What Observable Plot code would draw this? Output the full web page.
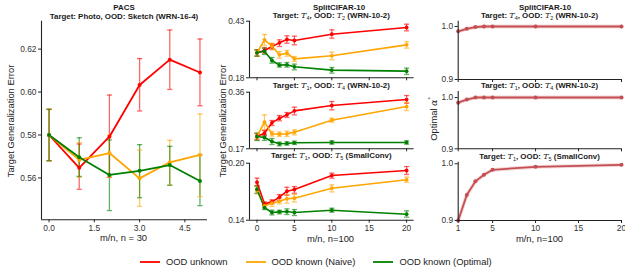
<!DOCTYPE html>
<html><head><meta charset="utf-8">
<script src="https://cdn.jsdelivr.net/npm/d3@7"></script>
<script src="https://cdn.jsdelivr.net/npm/@observablehq/plot@0.6"></script>
<style>
body{margin:0;background:#fff;font-family:"Liberation Sans",Arial,sans-serif;}
#root{position:relative;width:625px;height:275px;overflow:hidden;}
#root > svg{position:absolute;left:0;top:0;}
.t{position:absolute;white-space:nowrap;transform:translate(-50%,-50%);color:#1a1a1a;}
.tb{font-weight:bold;font-size:7.9px;}
.tb i{font-weight:normal;font-family:"DejaVu Serif",serif;font-size:8px;}
.tb sub{font-weight:normal;font-size:5.5px;vertical-align:-1.5px;}
.lab{font-size:9.4px;color:#222;}
.rot{transform:translate(-50%,-50%) rotate(-90deg);}
#legend{position:absolute;left:140px;top:256px;display:flex;gap:18px;font-size:9.4px;color:#222;}
#legend .it{display:flex;align-items:center;}
#legend .sw{display:block;margin-right:6px;}
</style></head><body><div id="root"></div>
<script>
// ---------- data ----------
const seriesNames = ["OOD unknown", "OOD known (Naive)", "OOD known (Optimal)"];
const seriesColors = ["#ff0000", "#ffa500", "#008000"];

// PACS
const pacsX = [0, 1, 2, 3, 4, 5];
const pacsUnknown   = [0.580, 0.5647, 0.5792, 0.6033, 0.6151, 0.6091];
const pacsUnknownLo = [0.568, 0.5547, 0.5603, 0.5912, 0.6012, 0.5936];
const pacsUnknownHi = [0.592, 0.5758, 0.5986, 0.6156, 0.6289, 0.6247];
const pacsNaive     = [0.580, 0.5684, 0.5716, 0.5598, 0.5673, 0.5707];
const pacsNaiveLo   = [0.568, 0.5603, 0.5603, 0.5468, 0.5566, 0.5513];
const pacsNaiveHi   = [0.592, 0.5764, 0.5800, 0.5730, 0.5775, 0.5898];
const pacsOpt       = [0.580, 0.5696, 0.5614, 0.5633, 0.5660, 0.5586];
const pacsOptLo     = [0.568, 0.5607, 0.5448, 0.5508, 0.5566, 0.5471];
const pacsOptHi     = [0.5919, 0.5787, 0.5777, 0.5755, 0.5747, 0.5707];

// SplitCIFAR-10
const midX = [0, 1, 2, 3, 4, 5, 10, 20];
// Panel A: T4 / T2
const aUnknown   = [0.2903, 0.3006, 0.3182, 0.3344, 0.3491, 0.3447, 0.3726, 0.4021];
const aUnknownLo = [0.2756, 0.2888, 0.3065, 0.3182, 0.3329, 0.3256, 0.3550, 0.3874];
const aUnknownHi = [0.3035, 0.3124, 0.3300, 0.3476, 0.3653, 0.3638, 0.3918, 0.4168];
const aNaive     = [0.2903, 0.3476, 0.3197, 0.2815, 0.2888, 0.2638, 0.2771, 0.3256];
const aNaiveLo   = [0.2756, 0.3226, 0.3035, 0.2668, 0.2756, 0.2521, 0.2594, 0.3109];
const aNaiveHi   = [0.3035, 0.3712, 0.3329, 0.2962, 0.3006, 0.2741, 0.2932, 0.3388];
const aOpt       = [0.2903, 0.2976, 0.2565, 0.2359, 0.2374, 0.2285, 0.2138, 0.2094];
const aOptLo     = [0.2756, 0.2830, 0.2447, 0.2271, 0.2271, 0.2153, 0.2006, 0.1947];
const aOptHi     = [0.3035, 0.3109, 0.2697, 0.2462, 0.2476, 0.2403, 0.2256, 0.2226];
// Panel B: T1 / T4
const bUnknown   = [0.2114, 0.2225, 0.2572, 0.2728, 0.2840, 0.2974, 0.3153, 0.3354];
const bUnknownLo = [0.2024, 0.2136, 0.2482, 0.2639, 0.2751, 0.2840, 0.3008, 0.3231];
const bUnknownHi = [0.2203, 0.2315, 0.2650, 0.2818, 0.2918, 0.3097, 0.3287, 0.3488];
const bNaive     = [0.2114, 0.2594, 0.2203, 0.2192, 0.2203, 0.2259, 0.2661, 0.3119];
const bNaiveLo   = [0.1980, 0.2337, 0.2125, 0.2114, 0.2114, 0.2169, 0.2594, 0.2985];
const bNaiveHi   = [0.2225, 0.2840, 0.2281, 0.2259, 0.2292, 0.2337, 0.2728, 0.3254];
const bOpt       = [0.2114, 0.2080, 0.1946, 0.1868, 0.1879, 0.1901, 0.1912, 0.1912];
const bOptLo     = [0.1980, 0.1980, 0.1845, 0.1800, 0.1823, 0.1845, 0.1857, 0.1857];
const bOptHi     = [0.2225, 0.2169, 0.2046, 0.1924, 0.1935, 0.1957, 0.1968, 0.1968];
// Panel C: T1 / T5
const cUnknown   = [0.1800, 0.1572, 0.1593, 0.1642, 0.1705, 0.1723, 0.1870, 0.1923];
const cUnknownLo = [0.1765, 0.1554, 0.1572, 0.1607, 0.1663, 0.1684, 0.1842, 0.1881];
const cUnknownHi = [0.1842, 0.1593, 0.1614, 0.1670, 0.1747, 0.1754, 0.1895, 0.1965];
const cNaive     = [0.1712, 0.1551, 0.1579, 0.1600, 0.1625, 0.1632, 0.1737, 0.1825];
const cNaiveLo   = [0.1677, 0.1530, 0.1544, 0.1572, 0.1579, 0.1593, 0.1698, 0.1800];
const cNaiveHi   = [0.1754, 0.1572, 0.1607, 0.1635, 0.1670, 0.1670, 0.1772, 0.1853];
const cOpt       = [0.1726, 0.1533, 0.1481, 0.1488, 0.1491, 0.1481, 0.1505, 0.1463];
const cOptLo     = [0.1684, 0.1512, 0.1456, 0.1467, 0.1460, 0.1449, 0.1484, 0.1432];
const cOptHi     = [0.1761, 0.1554, 0.1505, 0.1505, 0.1519, 0.1512, 0.1526, 0.1498];

// Optimal alpha*
const alphaX = [1, 2, 3, 4, 5, 10, 20];
const alphaA = [0.991, 0.9956, 0.999, 1.0, 1.0, 1.0, 1.0];
const alphaB = [0.990, 0.996, 1.0, 1.0, 1.0, 1.0, 1.0];
const alphaC = [0.900, 0.945, 0.969, 0.9806, 0.9894, 0.9947, 0.9982];

// ticks
const pacsXTicks = [0, 1.5, 3.0, 4.5];
const pacsYTicks = [0.56, 0.58, 0.60, 0.62];
const midXTicks = [0, 5, 10, 15, 20];
const aYTicks = [0.18, 0.43];
const bYTicks = [0.17, 0.36];
const cYTicks = [0.14, 0.20];
const alphaXTicks = [1, 5, 10, 15, 20];
const alphaYTicks = [0.9, 1.0];

// ---------- helpers ----------
function rows(xs, triples) {
  const out = [];
  triples.forEach(([m, lo, hi], s) => {
    xs.forEach((x, i) => out.push({x, y: m[i], lo: lo[i], hi: hi[i], s: seriesNames[s]}));
  });
  return out;
}
const capSymbol = {draw(ctx, size) { const w = Math.sqrt(size / Math.PI); ctx.moveTo(-w, 0); ctx.lineTo(w, 0); }};
const colorScale = {domain: seriesNames, range: seriesColors};

function errMarks(data, lw, r) {
  return [
    Plot.ruleX(data, {x: "x", y1: "lo", y2: "hi", stroke: "s", strokeOpacity: 0.6, strokeWidth: 1.3}),
    Plot.dot(data, {x: "x", y: "lo", symbol: capSymbol, r: 2.6, stroke: "s", strokeOpacity: 0.6, strokeWidth: 1.3}),
    Plot.dot(data, {x: "x", y: "hi", symbol: capSymbol, r: 2.6, stroke: "s", strokeOpacity: 0.6, strokeWidth: 1.3}),
    Plot.line(data, {x: "x", y: "y", stroke: "s", z: "s", strokeWidth: lw}),
    Plot.dot(data, {x: "x", y: "y", fill: "s", r})
  ];
}

function panel({frame, xDomain, yDomain, xTicks, yTicks, xFmt, yFmt, xLabels, marks}) {
  const [x0, x1, y0, y1] = frame;
  return Plot.plot({
    width: 625, height: 275,
    marginLeft: x0, marginRight: 625 - x1, marginTop: y0, marginBottom: 275 - y1,
    x: {domain: xDomain},
    y: {domain: yDomain},
    color: colorScale,
    style: {background: "transparent", fontFamily: "'Liberation Sans', Arial, sans-serif", fontSize: "8.4px", color: "#333", overflow: "visible"},
    marks: [
      ...marks,
      Plot.ruleX([xDomain[0]], {stroke: "#222", strokeWidth: 1.1}),
      Plot.ruleY([yDomain[0]], {stroke: "#222", strokeWidth: 1.1}),
      Plot.axisX({ticks: xTicks, tickSize: 3, tickPadding: 2, tickFormat: xLabels ? xFmt : () => "", label: null, stroke: "#222"}),
      Plot.axisY({ticks: yTicks, tickSize: 3, tickPadding: 2, tickFormat: yFmt, label: null, stroke: "#222"})
    ]
  });
}

const root = document.getElementById("root");
const f2 = d3.format(".2f"), f1 = d3.format(".1f"), fd = d3.format("d");

// PACS
root.appendChild(panel({
  frame: [41, 207, 20.7, 219.3], xDomain: [-0.25, 5.25], yDomain: [0.5405, 0.633],
  xTicks: pacsXTicks, yTicks: pacsYTicks, xFmt: f1, yFmt: f2, xLabels: true,
  marks: errMarks(rows(pacsX, [[pacsUnknown, pacsUnknownLo, pacsUnknownHi], [pacsNaive, pacsNaiveLo, pacsNaiveHi], [pacsOpt, pacsOptLo, pacsOptHi]]), 1.8, 2)
}));
// SplitCIFAR panels
const midFrames = [[249, 413.6, 20.7, 77.3], [249, 413.6, 91.7, 148.3], [249, 413.6, 162.7, 219.7]];
const midData = [
  [[aUnknown, aUnknownLo, aUnknownHi], [aNaive, aNaiveLo, aNaiveHi], [aOpt, aOptLo, aOptHi]],
  [[bUnknown, bUnknownLo, bUnknownHi], [bNaive, bNaiveLo, bNaiveHi], [bOpt, bOptLo, bOptHi]],
  [[cUnknown, cUnknownLo, cUnknownHi], [cNaive, cNaiveLo, cNaiveHi], [cOpt, cOptLo, cOptHi]]
];
const midYDomains = [[0.18, 0.43], [0.17, 0.36], [0.14, 0.20]];
const midYTicks = [aYTicks, bYTicks, cYTicks];
midFrames.forEach((fr, k) => {
  root.appendChild(panel({
    frame: fr, xDomain: [-1, 21], yDomain: midYDomains[k],
    xTicks: midXTicks, yTicks: midYTicks[k], xFmt: fd, yFmt: f2, xLabels: k === 2,
    marks: errMarks(rows(midX, midData[k]), 1.6, 1.9)
  }));
});
// alpha panels
const alphaFrames = [[457.7, 621, 20.7, 79], [457.7, 621, 91, 148.3], [457.7, 621, 161.7, 220]];
const alphaYDomains = [[0.9, 1.01], [0.9, 1.0117], [0.9, 1.0028]];
[alphaA, alphaB, alphaC].forEach((vals, k) => {
  const data = alphaX.map((x, i) => ({x, y: vals[i]}));
  root.appendChild(panel({
    frame: alphaFrames[k], xDomain: [1, 20], yDomain: alphaYDomains[k],
    xTicks: alphaXTicks, yTicks: alphaYTicks, xFmt: fd, yFmt: f1, xLabels: k === 2,
    marks: [
      Plot.line(data, {x: "x", y: "y", stroke: "#c44e52", strokeOpacity: 0.22, strokeWidth: 3.8}),
      Plot.line(data, {x: "x", y: "y", stroke: "#c44e52", strokeWidth: 1.8}),
      Plot.dot(data, {x: "x", y: "y", fill: "#c44e52", r: 2})
    ]
  }));
});

// ---------- text ----------
function txt(html, x, y, cls) {
  const d = document.createElement("div");
  d.className = "t " + cls;
  d.style.left = x + "px"; d.style.top = y + "px";
  d.innerHTML = html;
  root.appendChild(d);
}
const T = n => `<i>T</i><sub>${n}</sub>`;
txt("PACS", 124, 6.7, "tb");
txt("Target: Photo, OOD: Sketch (WRN-16-4)", 124, 16, "tb");
txt("SplitCIFAR-10", 339, 6.7, "tb");
txt(`Target: ${T(4)}, OOD: ${T(2)} (WRN-10-2)`, 331.3, 15.8, "tb");
txt(`Target: ${T(1)}, OOD: ${T(4)} (WRN-10-2)`, 331.3, 85.7, "tb");
txt(`Target: ${T(1)}, OOD: ${T(5)} (SmallConv)`, 331.3, 155.7, "tb");
txt("SplitCIFAR-10", 545, 6.7, "tb");
txt(`Target: ${T(4)}, OOD: ${T(2)} (WRN-10-2)`, 539.5, 15.8, "tb");
txt(`Target: ${T(1)}, OOD: ${T(4)} (WRN-10-2)`, 539.5, 86.2, "tb");
txt(`Target: ${T(1)}, OOD: ${T(5)} (SmallConv)`, 539.5, 157, "tb");
txt("Target Generalization Error", 10, 121, "lab rot");
txt("Target Generalization Error", 221.5, 121, "lab rot");
txt("Optimal <i style=\"font-family:'DejaVu Serif',serif\">α</i><sup style=\"font-size:6px\">*</sup>", 433, 119, "lab rot");
txt("m/n, n = 30", 123.5, 237, "lab");
txt("m/n, n=100", 330.5, 238, "lab");
txt("m/n, n=100", 539.5, 237.5, "lab");

// legend
const lg = document.createElement("div");
lg.id = "legend";
seriesNames.forEach((n, i) => {
  const it = document.createElement("div"); it.className = "it";
  const sw = d3.create("svg").attr("class", "sw").attr("width", 20).attr("height", 6);
  sw.append("line").attr("x1", 0).attr("x2", 20).attr("y1", 3).attr("y2", 3)
    .attr("stroke", seriesColors[i]).attr("stroke-width", 1.8);
  const sp = document.createElement("span"); sp.textContent = n;
  it.appendChild(sw.node()); it.appendChild(sp); lg.appendChild(it);
});
root.appendChild(lg);
</script>
</body></html>
